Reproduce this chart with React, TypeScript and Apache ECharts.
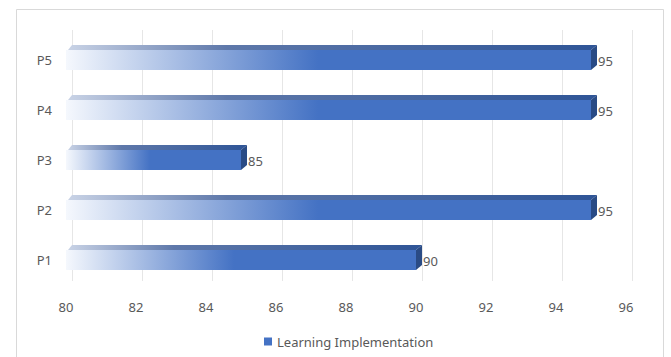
import React, { useEffect, useRef } from "react";
import * as echarts from "echarts";

const categories = ["P1", "P2", "P3", "P4", "P5"];
const values = [90, 95, 85, 95, 95];
const seriesName = "Learning Implementation";
const xMin = 80;
const xMax = 96;
const xStep = 2;

export default function App() {
  const ref = useRef<HTMLDivElement>(null);
  useEffect(() => {
    if (!ref.current) return;
    const chart = echarts.init(ref.current, undefined, { renderer: "svg" });
    const font = "'Noto Sans', 'Open Sans', sans-serif";
    const txt = "#595959";
    chart.setOption({
      animation: false,
      backgroundColor: "#ffffff",
      textStyle: { fontFamily: font },
      graphic: [
        {
          type: "rect",
          shape: { x: 16.5, y: 9.5, width: 647, height: 360 },
          style: { fill: "none", stroke: "#d9d9d9", lineWidth: 1 },
          z: -10,
          silent: true,
        },
      ],
      grid: [
        { left: 66, right: 45, top: 35, bottom: 72 },
        { left: 72, right: 39, top: 30, bottom: 76 },
      ],
      xAxis: [
        {
          type: "value",
          gridIndex: 0,
          min: xMin,
          max: xMax,
          interval: xStep,
          axisLine: { show: false },
          axisTick: { show: false },
          splitLine: { show: false },
          axisLabel: { color: txt, fontSize: 13, margin: 15, fontFamily: font },
        },
        {
          type: "value",
          gridIndex: 1,
          min: xMin,
          max: xMax,
          interval: xStep,
          axisLine: { show: false },
          axisTick: { show: false },
          axisLabel: { show: false },
          splitLine: { show: true, lineStyle: { color: "#e6e6e6", width: 1 } },
        },
      ],
      yAxis: [
        {
          type: "category",
          gridIndex: 0,
          data: categories,
          axisLine: { show: false },
          axisTick: { show: false },
          axisLabel: { color: txt, fontSize: 13, margin: 14, fontFamily: font },
        },
        {
          type: "category",
          gridIndex: 1,
          data: categories,
          show: false,
        },
      ],
      legend: {
        left: 259,
        top: 330,
        icon: "rect",
        itemWidth: 8,
        itemHeight: 8,
        itemGap: 5,
        textStyle: { color: txt, fontSize: 13, fontFamily: font },
        data: [seriesName],
      },
      series: [
        {
          name: seriesName,
          type: "custom",
          xAxisIndex: 0,
          yAxisIndex: 0,
          itemStyle: { color: "#4472c4" },
          encode: { x: 0, y: 1 },
          data: values.map((v, i) => [v, i]),
          renderItem: (params: any, api: any) => {
            const v = api.value(0);
            const ci = api.value(1);
            const end = api.coord([v, ci]);
            const start = api.coord([xMin, ci]);
            const band = api.size([0, 1])[1];
            const h = band * 0.4;
            const x0 = start[0];
            const x1 = end[0];
            const top = end[1] - h / 2;
            const bot = end[1] + h / 2;
            const dx = 6;
            const dy = 5;
            const w = x1 - x0;
            return {
              type: "group",
              children: [
                {
                  type: "polygon",
                  shape: {
                    points: [
                      [x0 + 2, top],
                      [x1, top],
                      [x1 + dx, top - dy],
                      [x0 + dx, top - dy],
                    ],
                  },
                  style: {
                    fill: new echarts.graphic.LinearGradient(0, 0, 1, 0, [
                      { offset: 0, color: "#c9d3e6" },
                      { offset: 0.3, color: "#5e78aa" },
                      { offset: 1, color: "#2f5597" },
                    ]),
                  },
                },
                {
                  type: "rect",
                  shape: { x: x0, y: top, width: w, height: h },
                  style: {
                    fill: new echarts.graphic.LinearGradient(0, 0, 1, 0, [
                      { offset: 0, color: "#f5f8fd" },
                      { offset: 0.48, color: "#4472c4" },
                      { offset: 1, color: "#4472c4" },
                    ]),
                  },
                },
                {
                  type: "polygon",
                  shape: {
                    points: [
                      [x1, top],
                      [x1 + dx, top - dy],
                      [x1 + dx, bot - dy],
                      [x1, bot],
                    ],
                  },
                  style: { fill: "#2a4b85" },
                },
                {
                  type: "text",
                  style: {
                    text: String(v),
                    x: x1 + dx + 1,
                    y: end[1] + 1,
                    verticalAlign: "middle",
                    align: "left",
                    fill: txt,
                    fontSize: 13,
                    fontFamily: font,
                  },
                },
              ],
            };
          },
        },
      ],
    });
    return () => chart.dispose();
  }, []);
  return (
    <div
      ref={ref}
      style={{ position: "fixed", left: 0, top: 0, width: 671, height: 357 }}
    />
  );
}
